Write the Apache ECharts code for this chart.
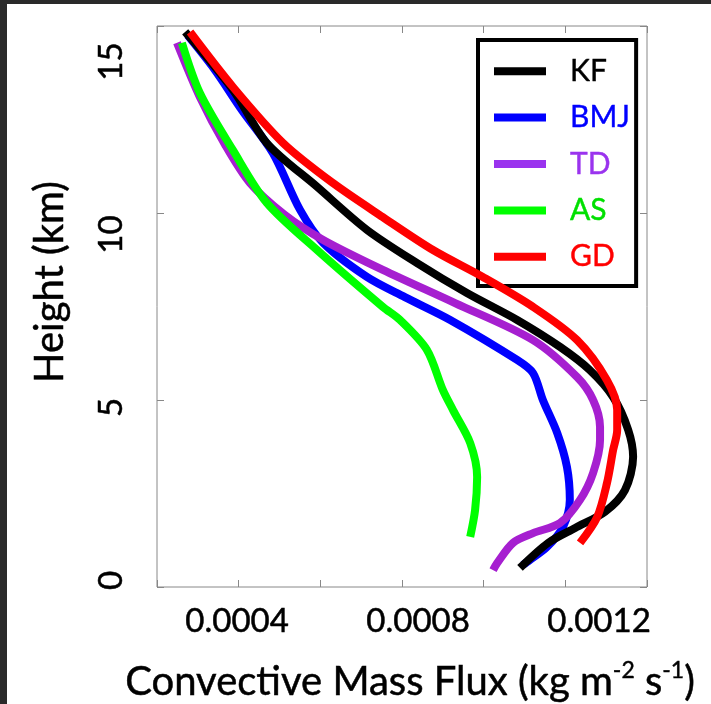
<!DOCTYPE html>
<html><head><meta charset="utf-8">
<script src="https://cdn.jsdelivr.net/npm/echarts@6/dist/echarts.min.js"></script>
<style>
html,body{margin:0;padding:0;background:#fff;}
#wrap{position:relative;width:711px;height:704px;overflow:hidden;background:#fff;}
#chart{position:absolute;left:0;top:0;width:711px;height:704px;}
#bt{position:absolute;left:0;top:0;width:711px;height:4px;background:#2a2a2a;}
#bl{position:absolute;left:0;top:0;width:7px;height:704px;background:#2a2a2a;}
</style></head><body>
<div id="wrap"><div id="chart"></div><div id="bt"></div><div id="bl"></div></div>
<script>
const categories = ['KF', 'BMJ', 'TD', 'AS', 'GD'];

const fluxKF   = [0.000269,0.000386,0.000469,0.000592,0.000714,0.000837,0.000959,0.001082,0.001187,0.001260,0.001317,0.001354,0.001366,0.001346,0.001297,0.001224,0.001158,0.001089];
const heightKF = [14.84,13.29,11.87,10.70,9.55,8.66,7.86,7.14,6.42,5.80,5.08,4.20,3.48,2.59,2.01,1.58,1.18,0.51];

const fluxBMJ   = [0.000275,0.000342,0.000408,0.000484,0.000550,0.000607,0.000714,0.000807,0.000918,0.001082,0.001121,0.001145,0.001180,0.001204,0.001211,0.001194,0.001155,0.001113,0.001096];
const heightBMJ = [14.75,13.82,12.75,11.60,10.09,9.20,8.29,7.75,7.14,6.07,5.72,5.00,4.12,3.21,2.33,1.60,1.07,0.72,0.59];

const fluxTD   = [0.000249,0.000305,0.000367,0.000428,0.000513,0.000607,0.000753,0.000930,0.001121,0.001229,0.001268,0.001285,0.001285,0.001268,0.001236,0.001187,0.001121,0.001072,0.001033,0.001023];
const heightTD = [14.55,13.10,11.82,10.80,9.95,9.28,8.48,7.59,6.60,5.61,5.00,4.28,3.93,3.05,2.33,1.71,1.44,1.18,0.64,0.45];

const fluxAS   = [0.000261,0.000305,0.000386,0.000469,0.000592,0.000753,0.000795,0.000861,0.000900,0.000925,0.000967,0.000984,0.000979,0.000967];
const heightAS = [14.55,13.21,11.68,10.27,9.01,7.49,7.14,6.34,5.27,4.73,3.85,2.94,2.06,1.34];

const fluxGD   = [0.000281,0.000386,0.000509,0.000631,0.000753,0.000876,0.000998,0.001121,0.001229,0.001302,0.001327,0.001327,0.001317,0.001302,0.001278,0.001236];
const heightGD = [14.84,13.37,11.87,10.80,9.89,9.01,8.29,7.49,6.60,5.53,4.73,4.20,3.66,2.78,1.87,1.18];

const xTickLabels = [0.0004, 0.0008, 0.0012];
const yTickLabels = [0, 5, 10, 15];

const lineColors = ['#000000', '#0000ff', '#a61fd0', '#00ff00', '#ff0000'];
const legendIconColors = ['#000000', '#0000ff', '#9a33ee', '#00ff00', '#ff0000'];
const legendTextColors = ['#000000', '#0000ff', '#9a33ee', '#00e000', '#ff0000'];
const seriesZ = [3, 2, 4, 5, 6];

const fluxes = [fluxKF, fluxBMJ, fluxTD, fluxAS, fluxGD];
const heights = [heightKF, heightBMJ, heightTD, heightAS, heightGD];

const FONT = 'Lato';
const chart = echarts.init(document.getElementById('chart'), null, {renderer: 'canvas'});

const tickAxisCommon = {
  type: 'value', axisLine: {show: false, onZero: false}, splitLine: {show: false},
  axisTick: {show: true, inside: true, length: 7, lineStyle: {color: '#888', width: 1}},
  axisLabel: {show: false}
};
const heavy = {textBorderColor: '#000', textBorderWidth: 0.5};

chart.setOption({
  animation: false,
  backgroundColor: 'transparent',
  grid: {left: 157, top: 26, width: 490, height: 561, show: true, borderColor: '#888', borderWidth: 1,
         backgroundColor: 'transparent', containLabel: false, outerBoundsMode: 'none'},
  xAxis: [
    Object.assign({}, tickAxisCommon, {min: 0.0002, max: 0.0014, interval: 0.0002, position: 'bottom'}),
    {type: 'value', min: 0.000223, max: 0.001306, position: 'bottom',
     axisLine: {show: false, onZero: false}, axisTick: {show: false}, splitLine: {show: false},
     axisLabel: Object.assign({customValues: xTickLabels, formatter: v => v.toFixed(4), fontSize: 33, fontFamily: FONT,
                 color: '#000', margin: 18, lineHeight: 33}, heavy)},
    Object.assign({}, tickAxisCommon, {min: 0.0002, max: 0.0014, interval: 0.0002, position: 'top'})
  ],
  yAxis: [
    Object.assign({}, tickAxisCommon, {min: 0, max: 15, interval: 5, position: 'left'}),
    {type: 'value', min: -0.19, max: 16.03, position: 'left',
     axisLine: {show: false, onZero: false}, axisTick: {show: false}, splitLine: {show: false},
     axisLabel: Object.assign({customValues: yTickLabels, rotate: 90, fontSize: 33, fontFamily: FONT,
                 color: '#000', margin: 29, lineHeight: 33}, heavy)},
    Object.assign({}, tickAxisCommon, {min: 0, max: 15, interval: 5, position: 'right'})
  ],
  legend: {
    orient: 'vertical', left: 478, top: 40, padding: [16, 6, 14, 16],
    borderColor: '#000', borderWidth: 4, backgroundColor: '#fff',
    itemWidth: 52, itemHeight: 8, itemGap: 16, icon: 'rect',
    textStyle: {fontSize: 30, fontFamily: FONT, lineHeight: 30, padding: [0, 0, 0, 19], textBorderWidth: 0.4},
    data: categories.map((c, i) => ({name: c, itemStyle: {color: legendIconColors[i]},
                                     textStyle: {color: legendTextColors[i], textBorderColor: legendTextColors[i]}}))
  },
  series: categories.map((c, i) => ({
    name: c, type: 'line', xAxisIndex: 0, yAxisIndex: 0, z: seriesZ[i],
    data: fluxes[i].map((f, j) => [f, heights[i][j]]),
    showSymbol: false, symbol: 'none', smooth: 0.3,
    lineStyle: {width: 8, color: lineColors[i]}, itemStyle: {color: lineColors[i]}
  })),
  graphic: [
    {type: 'text', x: 410, y: 682, style: {
      text: '{a|Convective Mass Flux (kg m}{s|-2}{a| s}{s|-1}{a|)}',
      align: 'center', verticalAlign: 'middle',
      rich: {a: {fontSize: 40, fontFamily: FONT, fill: '#000', lineHeight: 46, stroke: '#000', lineWidth: 0.5},
             s: {fontSize: 23, fontFamily: FONT, fill: '#000', lineHeight: 22, verticalAlign: 'top', stroke: '#000', lineWidth: 0.4}}}},
    {type: 'text', x: 50, y: 282, rotation: Math.PI / 2, style: {
      text: 'Height (km)', fontSize: 40, fontFamily: FONT, fill: '#000', stroke: '#000', lineWidth: 0.5,
      align: 'center', verticalAlign: 'middle'}}
  ]
});
</script></body></html>
